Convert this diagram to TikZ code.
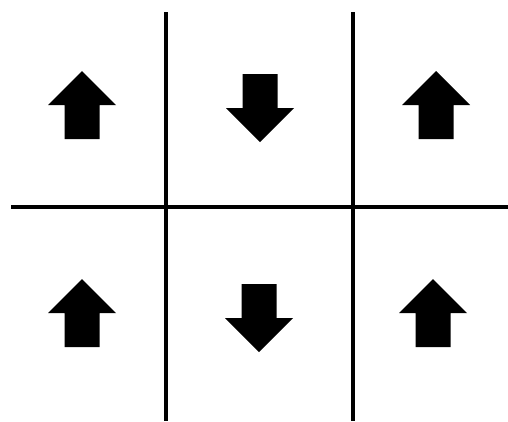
\documentclass[tikz,border=0pt]{standalone}
\usepackage{tikz}
\usetikzlibrary{calc}

\tikzset{
    spin/.pic={
        \fill (0,-34) -- (34,0) -- (17.5,0) -- (17.5,34) -- (-17.5,34) -- (-17.5,0) -- (-34,0) -- cycle;
    },
    wall/.style={line width=4pt}
}

\begin{document}
\begin{tikzpicture}[x=1pt, y=-1pt]
    \useasboundingbox (0,0) rectangle (508,421);

    % Tinklelio linijos
    \coordinate (V1t) at (166, 12);
    \coordinate (V1b) at (166, 421);
    \coordinate (V2t) at (352.5, 12);
    \coordinate (V2b) at (352.5, 421);
    \coordinate (Hl) at (11, 207);
    \coordinate (Hr) at (508, 207);

    \draw[wall] (V1t) -- (V1b);
    \draw[wall] (V2t) -- (V2b);
    \draw[wall] (Hl) -- (Hr);

    % Sukiniai: aukštyn ir žemyn
    \foreach \x/\y/\r in {82/105/0, 260/108/180, 436/105/0,
                          82/313/0, 259/318/180, 433/313/0} {
        \pic[rotate=\r] at (\x, \y) {spin};
    }
\end{tikzpicture}
\end{document}
